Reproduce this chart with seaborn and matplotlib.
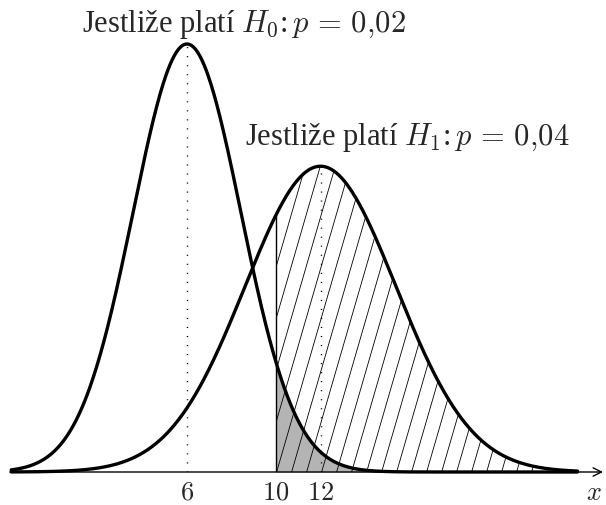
import numpy as np
import pandas as pd
import matplotlib
matplotlib.use("Agg")
import matplotlib.pyplot as plt
import seaborn as sns

# ---- data (binomial test, normal approximation) ----
n_trials = 300
p_h0 = 0.02
p_h1 = 0.04
critical_value = 10
tick_values = [6, 10, 12]
tick_labels = ["$6$", "$10$", "$12$"]
label_h0 = "Jestliže platí $H_0$:$\\,p\\,=\\,0{,}02$"
label_h1 = "Jestliže platí $H_1$:$\\,p\\,=\\,0{,}04$"
x_label = "$x$"
x_domain = [-1.9, 23.55]

sns.set_style("white")
plt.rcParams["font.family"] = ["Liberation Serif", "DejaVu Serif"]
plt.rcParams["mathtext.fontset"] = "cm"

mu0 = n_trials * p_h0
sd0 = np.sqrt(n_trials * p_h0 * (1 - p_h0))
mu1 = n_trials * p_h1
sd1 = np.sqrt(n_trials * p_h1 * (1 - p_h1))


def pdf(x, mu, sd):
    return np.exp(-0.5 * ((x - mu) / sd) ** 2) / (sd * np.sqrt(2 * np.pi))


xs = np.linspace(x_domain[0], x_domain[1], 800)
df = pd.concat([
    pd.DataFrame({"x": xs, "density": pdf(xs, mu0, sd0), "hyp": "H0"}),
    pd.DataFrame({"x": xs, "density": pdf(xs, mu1, sd1), "hyp": "H1"}),
])

W, H = 606, 506
fig = plt.figure(figsize=(W / 100, H / 100), dpi=100)
base_px = 473
ax = fig.add_axes([0, (H - base_px) / H, 1, base_px / H])

# pixel scales
px_per_x = 22.25
peak_px = 428
px_per_y = peak_px / pdf(mu0, mu0, sd0)
x0_px = 187
ax.set_xlim(mu0 - x0_px / px_per_x, mu0 + (W - x0_px) / px_per_x)
ax.set_ylim(0, base_px / px_per_y)

# gray region: H0 beyond critical value
xr = xs[xs >= critical_value]
xr = np.concatenate([[critical_value], xr])
ax.fill_between(xr, 0, pdf(xr, mu0, sd0), color="#b4b4b4", lw=0, zorder=1)

# hatched region: H1 beyond critical value
poly = ax.fill_between(xr, 0, pdf(xr, mu1, sd1), facecolor="none", lw=0, zorder=1)
clip_path = poly.get_paths()[0]
ytop = ax.get_ylim()[1]
slope = 0.29 * px_per_y / px_per_x  # dx per dy in data units
spacing = 15 / px_per_x
start = 16.77 - spacing * 20
for k in range(60):
    xb = start + k * spacing
    ln, = ax.plot([xb, xb + slope * ytop], [0, ytop], color="black", lw=0.6, zorder=2)
    ln.set_clip_path(clip_path, ax.transData)

# vertical line at critical value
ax.plot([critical_value, critical_value], [0, pdf(critical_value, mu1, sd1)],
        color="black", lw=1.0, zorder=3)

# dotted lines at means
for mu, sd in [(mu0, sd0), (mu1, sd1)]:
    ax.plot([mu, mu], [0, pdf(mu, mu, sd)], color="black", lw=1.0,
            linestyle=(0, (0.8, 5.7)), zorder=3)

# curves
sns.lineplot(data=df, x="x", y="density", hue="hyp", palette=["black", "black"],
             lw=2.4, legend=False, ax=ax, zorder=5, clip_on=False)

# x axis with arrow
ax.annotate("", xy=(mu0 + (603 - x0_px) / px_per_x, 0),
            xytext=(mu0 + (10 - x0_px) / px_per_x, 0),
            arrowprops=dict(arrowstyle="->,head_length=0.6,head_width=0.3",
                            lw=1.0, color="black", shrinkA=0, shrinkB=0),
            annotation_clip=False, zorder=4)

for s in ax.spines.values():
    s.set_visible(False)
ax.set_yticks([])
ax.set_xticks(tick_values)
ax.set_xticklabels(tick_labels, fontsize=19)
ax.tick_params(axis="x", length=0, pad=7)
ax.set_xlabel("")
ax.set_ylabel("")
ax.patch.set_alpha(0)

fig.text(244 / W, 1 - 32 / H, label_h0, ha="center", va="baseline", fontsize=22)
fig.text(407 / W, 1 - 145 / H, label_h1, ha="center", va="baseline", fontsize=22)
fig.text(594 / W, 1 - 500 / H, x_label, ha="center", va="baseline", fontsize=19)

fig.savefig("out.png", dpi=100, facecolor="white")
